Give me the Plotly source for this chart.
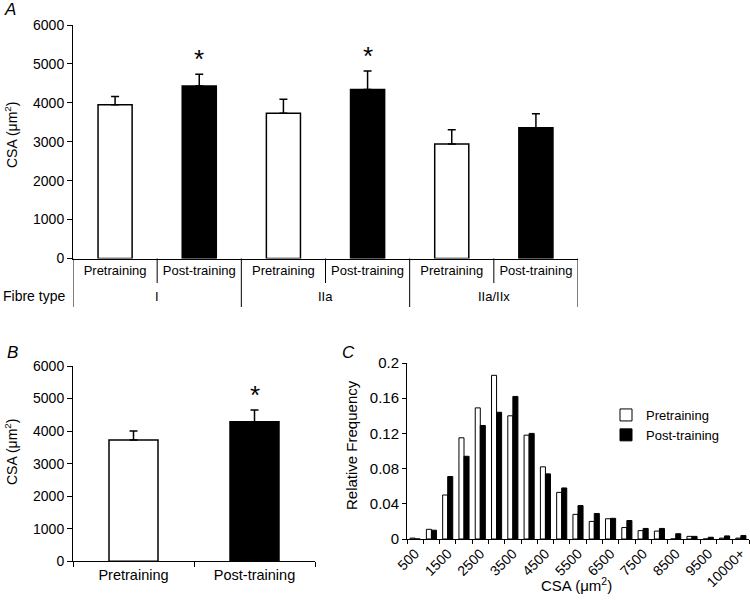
import plotly.graph_objects as go

# ---------------- data ----------------
fibre_types = ["I", "I", "IIa", "IIa", "IIa/IIx", "IIa/IIx"]
conditions_a = ["Pretraining", "Post-training"] * 3
csa_a = [3950, 4430, 3735, 4345, 2940, 3360]
sem_a = [215, 305, 360, 470, 370, 360]
sig_a = [False, True, False, True, False, False]

conditions_b = ["Pretraining", "Post-training"]
csa_b = [3730, 4290]
sem_b = [275, 360]
sig_b = [False, True]

bins_c = ["500", "1000", "1500", "2000", "2500", "3000", "3500", "4000", "4500",
          "5000", "5500", "6000", "6500", "7000", "7500", "8000", "8500", "9000",
          "9500", "10000", "10000+"]
freq_pre = [0.001, 0.011, 0.050, 0.115, 0.149, 0.186, 0.140, 0.118, 0.082, 0.053,
            0.028, 0.020, 0.023, 0.013, 0.0095, 0.009, 0.0, 0.003, 0.0, 0.001, 0.001]
freq_post = [0.0, 0.010, 0.071, 0.094, 0.129, 0.144, 0.162, 0.120, 0.074, 0.058,
             0.038, 0.029, 0.0235, 0.021, 0.012, 0.012, 0.006, 0.003, 0.002, 0.0035, 0.004]

FILL = {"Pretraining": "white", "Post-training": "black"}
FONT = "Liberation Sans, Arial, sans-serif"
W, H = 750, 600


def px(x):
    return x / W


def py(y):
    return 1 - y / H


pos_a = list(range(len(conditions_a)))

fig = go.Figure()

# Panel A
fig.add_trace(go.Bar(
    x=pos_a, y=csa_a, width=0.405,
    marker=dict(color=[FILL[c] for c in conditions_a], line=dict(color="black", width=1.5)),
    error_y=dict(type="data", symmetric=False, array=sem_a, arrayminus=[0] * len(sem_a),
                 color="black", thickness=1.5, width=4),
    xaxis="x", yaxis="y", showlegend=False, hoverinfo="skip"))

# Panel B
fig.add_trace(go.Bar(
    x=conditions_b, y=csa_b, width=0.405,
    marker=dict(color=[FILL[c] for c in conditions_b], line=dict(color="black", width=1.5)),
    error_y=dict(type="data", symmetric=False, array=sem_b, arrayminus=[0] * len(sem_b),
                 color="black", thickness=1.5, width=4),
    xaxis="x2", yaxis="y2", showlegend=False, hoverinfo="skip"))

# Panel C
fig.add_trace(go.Bar(x=bins_c, y=freq_pre, name="Pretraining",
                     marker=dict(color="white", line=dict(color="black", width=1)),
                     xaxis="x3", yaxis="y3"))
fig.add_trace(go.Bar(x=bins_c, y=freq_post, name="Post-training",
                     marker=dict(color="black", line=dict(color="black", width=1)),
                     xaxis="x3", yaxis="y3"))

axis_common = dict(showline=True, linecolor="black", linewidth=1, showgrid=False,
                   zeroline=False, ticks="outside", tickcolor="black", ticklen=5,
                   automargin=False,
                   tickfont=dict(family=FONT, size=14, color="black"))

fig.update_layout(
    width=W, height=H, margin=dict(l=0, r=0, t=0, b=0, pad=0, autoexpand=False),
    paper_bgcolor="white", plot_bgcolor="white",
    font=dict(family=FONT, color="black"),
    barmode="group", bargap=0.38, bargroupgap=0,
    xaxis=dict(axis_common, domain=[px(73), px(578)], anchor="y", range=[-0.5, len(pos_a) - 0.5],
               ticks="", tickvals=pos_a, ticktext=conditions_a,
               tickfont=dict(family=FONT, size=13, color="black")),
    yaxis=dict(axis_common, domain=[py(258.5), py(25)], anchor="x", range=[0, 6000], dtick=1000),
    xaxis2=dict(axis_common, type="category", domain=[px(73), px(315)], anchor="y2",
                tickson="boundaries", tickfont=dict(family=FONT, size=14.5, color="black")),
    yaxis2=dict(axis_common, domain=[py(561.3), py(366)], anchor="x2", range=[0, 6000], dtick=1000),
    xaxis3=dict(axis_common, type="category", domain=[px(407), px(749)], anchor="y3",
                tickson="boundaries", ticklen=4, tickangle=-45,
                tickvals=bins_c,
                ticktext=[b if (i % 2 == 0) else "" for i, b in enumerate(bins_c)]),
    yaxis3=dict(axis_common, domain=[py(539), py(363)], anchor="x3", range=[0, 0.2],
                dtick=0.04, ticklen=4, tickfont=dict(family=FONT, size=15, color="black")),
    legend=dict(x=px(606), y=py(400), xanchor="left", yanchor="top",
                font=dict(family=FONT, size=13, color="black"),
                bgcolor="rgba(0,0,0,0)", itemwidth=30, tracegroupgap=0),
)

# category separators for panel A (two-level category box)
shapes = []
n = len(pos_a)
for k in range(n + 1):
    xb = k - 0.5
    is_group_edge = (k == 0 or k == n or fibre_types[k - 1] != fibre_types[k])
    shapes.append(dict(type="line", xref="x", yref="paper", x0=xb, x1=xb,
                       y0=py(258.5), y1=py(307 if is_group_edge else 283),
                       line=dict(color="black", width=1)))
fig.update_layout(shapes=shapes)

ann = []


def text_ann(x, y, text, size, angle=0, xanchor="center"):
    ann.append(dict(x=px(x), y=py(y), xref="paper", yref="paper", text=text,
                    showarrow=False, textangle=angle, xanchor=xanchor, yanchor="middle",
                    font=dict(family=FONT, size=size, color="black")))


# panel letters
text_ann(10, 9, "<i>A</i>", 17)
text_ann(12, 352, "<i>B</i>", 17)
text_ann(348, 352, "<i>C</i>", 17)
# axis titles
text_ann(11, 135, "CSA (μm<sup>2</sup>)", 14, angle=-90)
text_ann(11, 452, "CSA (μm<sup>2</sup>)", 14, angle=-90)
text_ann(351, 445, "Relative Frequency", 15, angle=-90)
text_ann(576, 584, "CSA (μm<sup>2</sup>)", 15)
text_ann(1, 296, "Fibre type", 14, xanchor="left")

# fibre type group labels (centred on each group)
groups = []
for i, g in enumerate(fibre_types):
    if g not in groups:
        groups.append(g)
for g in groups:
    idx = [i for i, f in enumerate(fibre_types) if f == g]
    ann.append(dict(x=sum(idx) / len(idx), y=py(296), xref="x", yref="paper", text=g,
                    showarrow=False, yanchor="middle",
                    font=dict(family=FONT, size=13, color="black")))

# significance asterisks
for i, s in enumerate(sig_a):
    if s:
        ann.append(dict(x=pos_a[i], y=csa_a[i] + sem_a[i], xref="x", yref="y", text="*",
                        showarrow=False, yanchor="middle", yshift=15,
                        font=dict(family=FONT, size=26, color="black")))
for i, s in enumerate(sig_b):
    if s:
        ann.append(dict(x=conditions_b[i], y=csa_b[i] + sem_b[i], xref="x2", yref="y2",
                        text="*", showarrow=False, yanchor="middle", yshift=15,
                        font=dict(family=FONT, size=26, color="black")))

fig.update_layout(annotations=ann)
fig.write_html("out.html", config={"displayModeBar": False},
               post_script="document.body.style.margin='0';")
